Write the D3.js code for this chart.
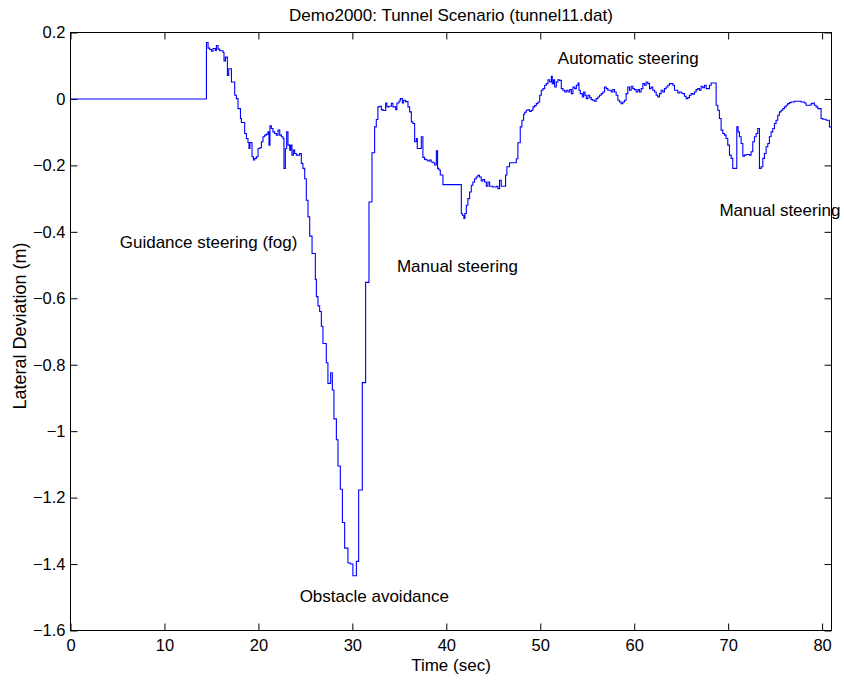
<!DOCTYPE html>
<html>
<head>
<meta charset="utf-8">
<script src="https://cdn.jsdelivr.net/npm/d3@7"></script>
<style>
  html, body { margin: 0; padding: 0; background: #fff; }
  text { font-family: "Liberation Sans", Arial, Helvetica, sans-serif; fill: #000; }
</style>
</head>
<body>
<svg id="chart" width="844" height="681"></svg>
<script>
const timeSec = [
  0, 14.47, 14.64, 14.82, 15.0, 15.17, 15.42, 15.53, 15.7, 15.88, 16.24, 16.34, 16.49, 16.7, 16.84,
  17.13, 17.48, 17.66, 17.83, 18.09, 18.19, 18.54, 18.72, 18.89, 19.0, 19.1, 19.32, 19.47, 19.61,
  19.79, 19.96, 20.14, 20.32, 20.49, 20.67, 20.85, 21.02, 21.13, 21.23, 21.38, 21.55, 21.73, 21.91,
  22.09, 22.27, 22.45, 22.62, 22.72, 22.87, 23.01, 23.15, 23.33, 23.44, 23.57, 23.72, 23.86, 24.04,
  24.39, 24.57, 24.74, 24.93, 25.1, 25.28, 25.46, 25.71, 26.06, 26.17, 26.34, 26.52, 26.7, 26.87,
  27.23, 27.4, 27.69, 27.87, 28.04, 28.3, 28.47, 28.72, 28.94, 29.18, 29.53, 29.79, 30.06, 30.43,
  30.67, 31.06, 31.41, 31.77, 32.09, 32.37, 32.55, 32.72, 32.9, 33.09, 33.26, 33.54, 33.68, 33.9,
  34.15, 34.32, 34.61, 34.74, 34.96, 35.1, 35.32, 35.46, 35.67, 35.92, 36.1, 36.28, 36.45, 36.63,
  36.81, 36.91, 37.34, 37.51, 37.69, 37.87, 38.04, 38.22, 38.4, 38.58, 38.76, 38.94, 39.07, 39.21,
  39.36, 39.64, 41.6, 41.7, 41.87, 41.98, 42.13, 42.3, 42.48, 42.66, 42.83, 43.01, 43.19, 43.36,
  43.54, 43.72, 43.89, 44.07, 44.26, 44.43, 44.61, 44.96, 45.32, 45.49, 45.67, 45.85, 46.31, 46.45,
  46.73, 47.45, 47.62, 47.87, 48.05, 48.23, 48.34, 48.51, 48.69, 48.87, 49.05, 49.23, 49.4, 49.58,
  49.76, 49.94, 50.11, 50.29, 50.47, 50.65, 50.82, 51.0, 51.18, 51.28, 51.42, 51.53, 51.71, 51.88,
  52.06, 52.24, 52.42, 52.6, 52.77, 52.95, 53.13, 53.31, 53.48, 53.66, 53.84, 54.02, 54.12, 54.26,
  54.48, 54.62, 54.76, 54.9, 55.08, 55.26, 55.42, 55.6, 55.78, 55.95, 56.13, 56.31, 56.49, 56.66,
  56.84, 57.02, 57.2, 57.55, 57.73, 57.9, 58.08, 58.26, 58.44, 58.61, 58.79, 58.97, 59.14, 59.32,
  59.5, 59.68, 59.85, 60.03, 60.21, 60.39, 60.56, 60.74, 60.92, 61.1, 61.27, 61.45, 61.63, 61.8,
  61.98, 62.16, 62.34, 62.51, 62.69, 62.87, 63.05, 63.22, 63.4, 63.58, 63.75, 64.11, 64.29, 64.64,
  64.82, 65.0, 65.17, 65.35, 65.53, 65.7, 65.88, 66.06, 66.24, 66.41, 66.59, 66.77, 66.95, 67.12,
  67.3, 67.48, 67.66, 68.01, 68.19, 68.72, 68.9, 69.07, 69.25, 69.43, 69.61, 69.78, 69.96, 70.14,
  70.32, 70.49, 70.92, 71.06, 71.2, 71.38, 71.56, 71.73, 71.91, 72.27, 72.44, 72.62, 72.8, 72.98,
  73.15, 73.33, 73.51, 73.69, 73.86, 74.04, 74.22, 74.39, 74.57, 74.75, 74.93, 75.1, 75.28, 75.46,
  75.64, 75.81, 75.99, 76.17, 76.34, 76.52, 76.7, 77.05, 77.76, 78.12, 78.29, 78.83, 79.0, 79.18,
  79.36, 79.54, 79.89, 80.07, 80.42, 80.78, 81.0
];
const deviation = [
  0, 0.170, 0.153, 0.149, 0.144, 0.152, 0.146, 0.161, 0.150, 0.145, 0.140, 0.114, 0.126, 0.071, 0.091,
  0.051, 0.011, 0.001, -0.029, -0.059, -0.071, -0.104, -0.119, -0.131, -0.149, -0.131, -0.174, -0.184, -0.179,
  -0.174, -0.149, -0.147, -0.129, -0.114, -0.109, -0.106, -0.099, -0.139, -0.081, -0.089, -0.099, -0.104, -0.109,
  -0.094, -0.109, -0.114, -0.119, -0.209, -0.149, -0.099, -0.139, -0.154, -0.139, -0.169, -0.154, -0.164, -0.169,
  -0.164, -0.194, -0.209, -0.240, -0.305, -0.355, -0.413, -0.465, -0.543, -0.595, -0.623, -0.640, -0.684, -0.736,
  -0.794, -0.856, -0.824, -0.876, -0.963, -1.026, -1.105, -1.175, -1.275, -1.352, -1.397, -1.400, -1.435, -1.392,
  -1.177, -0.854, -0.552, -0.310, -0.162, -0.084, -0.062, -0.024, -0.022, -0.032, -0.035, -0.012, -0.024, -0.022,
  -0.013, -0.024, -0.032, -0.012, -0.006, 0.001, -0.012, -0.004, -0.008, -0.024, -0.039, -0.069, -0.074, -0.129,
  -0.119, -0.149, -0.114, -0.176, -0.182, -0.184, -0.187, -0.184, -0.190, -0.192, -0.199, -0.156, -0.209, -0.214,
  -0.229, -0.258, -0.345, -0.350, -0.360, -0.345, -0.320, -0.300, -0.280, -0.260, -0.250, -0.240, -0.235, -0.230,
  -0.235, -0.247, -0.243, -0.250, -0.263, -0.250, -0.263, -0.265, -0.263, -0.270, -0.245, -0.263, -0.229, -0.204,
  -0.192, -0.180, -0.132, -0.084, -0.064, -0.046, -0.040, -0.034, -0.033, -0.038, -0.034, -0.024, -0.020, -0.014,
  -0.009, 0.011, 0.026, 0.031, 0.041, 0.046, 0.058, 0.051, 0.068, 0.046, 0.058, 0.036, 0.051, 0.058,
  0.056, 0.031, 0.026, 0.021, 0.026, 0.021, 0.028, 0.016, 0.036, 0.031, 0.041, 0.048, 0.026, 0.016,
  0.006, 0.021, 0.011, 0.001, 0.011, 0.004, -0.002, -0.004, -0.007, 0.001, 0.006, 0.011, 0.016, 0.021,
  0.036, 0.031, 0.026, 0.021, 0.028, 0.021, 0.011, -0.004, -0.009, -0.014, -0.009, -0.004, 0.016, 0.036,
  0.026, 0.038, 0.031, 0.028, 0.021, 0.028, 0.021, 0.031, 0.046, 0.041, 0.051, 0.046, 0.031, 0.036,
  0.026, 0.021, 0.011, 0.006, 0.016, 0.026, 0.021, 0.031, 0.036, 0.041, 0.046, 0.041, 0.026, 0.018,
  0.021, 0.018, 0.016, 0.008, 0.001, 0.004, 0.011, 0.016, 0.014, 0.021, 0.028, 0.031, 0.026, 0.038,
  0.034, 0.041, 0.031, 0.041, 0.048, -0.019, -0.034, -0.059, -0.094, -0.104, -0.109, -0.119, -0.139, -0.169,
  -0.179, -0.209, -0.084, -0.099, -0.114, -0.134, -0.172, -0.169, -0.167, -0.169, -0.159, -0.129, -0.114, -0.104,
  -0.089, -0.209, -0.204, -0.179, -0.164, -0.144, -0.134, -0.114, -0.099, -0.089, -0.074, -0.064, -0.049, -0.039,
  -0.034, -0.029, -0.024, -0.019, -0.014, -0.011, -0.009, -0.007, -0.009, -0.012, -0.019, -0.014, -0.012, -0.019,
  -0.024, -0.029, -0.059, -0.061, -0.064, -0.084, -0.084
];
const xTicks = [0, 10, 20, 30, 40, 50, 60, 70, 80];
const xTickLabels = ["0", "10", "20", "30", "40", "50", "60", "70", "80"];
const yTicks = [-1.6, -1.4, -1.2, -1.0, -0.8, -0.6, -0.4, -0.2, 0, 0.2];
const yTickLabels = ["\u22121.6", "\u22121.4", "\u22121.2", "\u22121", "\u22120.8", "\u22120.6", "\u22120.4", "\u22120.2", "0", "0.2"];
const annotationText = ["Guidance steering (fog)", "Manual steering", "Obstacle avoidance", "Automatic steering", "Manual steering"];
const annotationTime = [5.24, 34.74, 24.39, 51.87, 69.07];
const annotationDev  = [-0.449, -0.520, -1.514, 0.104, -0.353];
const titleText = "Demo2000: Tunnel Scenario (tunnel11.dat)";
const xLabel = "Time (sec)";
const yLabel = "Lateral Deviation (m)";

// ---- Layout ----
const L = 70.5, R = 831.5, T = 32.5, B = 630.5;
const svg = d3.select("#chart");
svg.append("rect").attr("width", 844).attr("height", 681).attr("fill", "#fff");

const x = d3.scaleLinear().domain([0, 81]).range([L, R]);
const y = d3.scaleLinear().domain([-1.6, 0.2]).range([B, T]);

const fs = "16.5px";
const tickLen = 7;

// Bottom axis with labels
const gx = svg.append("g").attr("transform", `translate(0,${B})`)
  .call(d3.axisBottom(x).tickValues(xTicks).tickSizeInner(-tickLen).tickSizeOuter(0)
        .tickPadding(9).tickFormat((d, i) => xTickLabels[i]));
// Left axis with labels
const gy = svg.append("g").attr("transform", `translate(${L},0)`)
  .call(d3.axisLeft(y).tickValues(yTicks).tickSizeInner(-tickLen).tickSizeOuter(0)
        .tickPadding(5).tickFormat((d, i) => yTickLabels[i]));
// Top & right ticks (no labels)
const gt = svg.append("g").attr("transform", `translate(0,${T})`)
  .call(d3.axisTop(x).tickValues(xTicks).tickSizeInner(-tickLen).tickSizeOuter(0).tickFormat(""));
const gr = svg.append("g").attr("transform", `translate(${R},0)`)
  .call(d3.axisRight(y).tickValues(yTicks).tickSizeInner(-tickLen).tickSizeOuter(0).tickFormat(""));

[gx, gy, gt, gr].forEach(g => {
  g.select(".domain").remove();
  g.selectAll("line").attr("stroke", "#000").attr("stroke-width", 1);
  g.selectAll("text").style("font-size", fs).attr("fill", "#000")
    .style("font-family", '"Liberation Sans", Arial, sans-serif');
});

// Box
svg.append("rect").attr("x", L).attr("y", T).attr("width", R - L).attr("height", B - T)
  .attr("fill", "none").attr("stroke", "#000").attr("stroke-width", 1);

// Data line (zero-order hold steps)
const pts = timeSec.map((t, i) => [t, deviation[i]]);
const line = d3.line().x(d => x(d[0])).y(d => y(d[1])).curve(d3.curveStepAfter);
svg.append("path").datum(pts).attr("d", line)
  .attr("fill", "none").attr("stroke", "#0000ff").attr("stroke-width", 1.1)
  .attr("stroke-linejoin", "miter");

// Annotations
annotationText.forEach((s, i) => {
  svg.append("text").attr("x", x(annotationTime[i])).attr("y", y(annotationDev[i]))
    .style("font-size", "17px").text(s);
});

// Title and axis labels
svg.append("text").attr("x", (L + R) / 2).attr("y", 21).attr("text-anchor", "middle")
  .style("font-size", "17px").text(titleText);
svg.append("text").attr("x", (L + R) / 2).attr("y", 671).attr("text-anchor", "middle")
  .style("font-size", "17px").text(xLabel);
svg.append("text").attr("transform", "translate(26,326) rotate(-90)").attr("text-anchor", "middle")
  .style("font-size", "18px").text(yLabel);
</script>
</body>
</html>
